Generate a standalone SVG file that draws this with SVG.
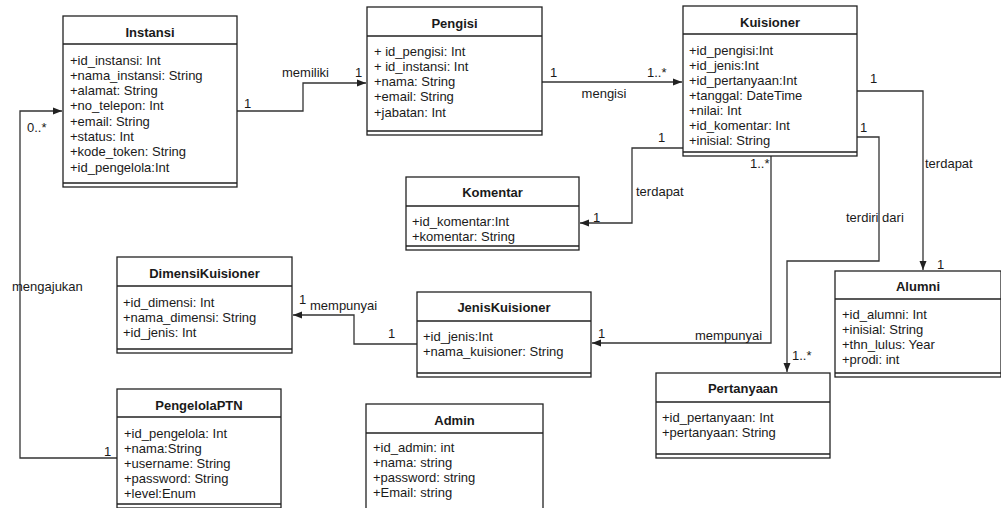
<svg xmlns="http://www.w3.org/2000/svg" width="1001" height="508" viewBox="0 0 1001 508">
<style>
text{font-family:"Liberation Sans",Arial,sans-serif;font-size:13px;fill:#1a1a1a}
.t{font-weight:bold;text-anchor:middle}
.box{fill:#fff;stroke:#222;stroke-width:1.3}
.ln{stroke:#222;stroke-width:1.3;fill:none}
.c{fill:none;stroke:#333;stroke-width:1.3;marker-end:url(#arr)}
.m{text-anchor:middle}
</style>
<defs>
<marker id="arr" markerWidth="10" markerHeight="8" refX="9" refY="4" orient="auto" markerUnits="userSpaceOnUse">
<path d="M0,0.5 L9,4 L0,7.5 Z" fill="#222"/>
</marker>
</defs>
<rect width="1001" height="508" fill="#fff"/>

<g id="connectors">
<path class="c" d="M237,111 H303 V83 H366"/>
<path class="c" d="M542,82 H682"/>
<path class="c" d="M683,148 H632 V223 H580"/>
<path class="c" d="M771,156 V343 H592"/>
<path class="c" d="M857,137 H879 V261 H787 V372"/>
<path class="c" d="M857,91 H923 V270"/>
<path class="c" d="M417,344 H354 V315 H293"/>
<path class="c" d="M117,458 H20 V111 H62"/>
<text x="282" y="76.5">memiliki</text>
<text x="244" y="107.5">1</text>
<text x="355" y="76.5">1</text>
<text x="604" y="97.5" class="m">mengisi</text>
<text x="550" y="76.5">1</text>
<text x="647" y="76.5">1..*</text>
<text x="658" y="141.5">1</text>
<text x="636" y="195.5">terdapat</text>
<text x="593" y="222">1</text>
<text x="750" y="167.5">1..*</text>
<text x="695" y="339.5">mempunyai</text>
<text x="598" y="337.5">1</text>
<text x="860" y="131.5">1</text>
<text x="846" y="221.5">terdiri dari</text>
<text x="792" y="359.5">1..*</text>
<text x="870" y="82.5">1</text>
<text x="925" y="167.5">terdapat</text>
<text x="937" y="268.5">1</text>
<text x="299" y="303.5">1</text>
<text x="310" y="309.5">mempunyai</text>
<text x="388" y="337.5">1</text>
<text x="27" y="131.5">0..*</text>
<text x="12" y="290.5">mengajukan</text>
<text x="104" y="455.5">1</text>
</g>

<g id="Instansi">
<rect class="box" x="63" y="16" width="174" height="171"/>
<path class="ln" d="M63,44 H237 M63,183 H237"/>
<text class="t" x="150" y="37">Instansi</text>
<text x="70" y="64.5">+id_instansi: Int</text>
<text x="70" y="79.8">+nama_instansi: String</text>
<text x="70" y="95.1">+alamat: String</text>
<text x="70" y="110.4">+no_telepon: Int</text>
<text x="70" y="125.7">+email: String</text>
<text x="70" y="141">+status: Int</text>
<text x="70" y="156.3">+kode_token: String</text>
<text x="70" y="171.6">+id_pengelola:Int</text>
</g>

<g id="Pengisi">
<rect class="box" x="367" y="7" width="175" height="128"/>
<path class="ln" d="M367,36 H542 M367,131 H542"/>
<text class="t" x="454.5" y="28">Pengisi</text>
<text x="374" y="55.5">+ id_pengisi: Int</text>
<text x="374" y="70.8">+ id_instansi: Int</text>
<text x="374" y="86">+nama: String</text>
<text x="374" y="101.3">+email: String</text>
<text x="374" y="116.5">+jabatan: Int</text>
</g>

<g id="Kuisioner">
<rect class="box" x="683" y="6" width="174" height="150"/>
<path class="ln" d="M683,34 H857 M683,152 H857"/>
<text class="t" x="770" y="27">Kuisioner</text>
<text x="689" y="54.5">+id_pengisi:Int</text>
<text x="689" y="69.5">+id_jenis:Int</text>
<text x="689" y="84.5">+id_pertanyaan:Int</text>
<text x="689" y="99.5">+tanggal: DateTime</text>
<text x="689" y="114.5">+nilai: Int</text>
<text x="689" y="129.5">+id_komentar: Int</text>
<text x="689" y="144.5">+inisial: String</text>
</g>

<g id="Komentar">
<rect class="box" x="406" y="177" width="173" height="73"/>
<path class="ln" d="M406,206 H579 M406,246 H579"/>
<text class="t" x="492.5" y="197">Komentar</text>
<text x="412" y="225.5">+id_komentar:Int</text>
<text x="412" y="240.5">+komentar: String</text>
</g>

<g id="DimensiKuisioner">
<rect class="box" x="117" y="257" width="175" height="96"/>
<path class="ln" d="M117,286 H292 M117,349 H292"/>
<text class="t" x="204.5" y="278">DimensiKuisioner</text>
<text x="123" y="306.5">+id_dimensi: Int</text>
<text x="123" y="321.5">+nama_dimensi: String</text>
<text x="123" y="336.5">+id_jenis: Int</text>
</g>

<g id="JenisKuisioner">
<rect class="box" x="417" y="292" width="174" height="85"/>
<path class="ln" d="M417,321 H591 M417,373 H591"/>
<text class="t" x="504" y="312">JenisKuisioner</text>
<text x="423" y="340.5">+id_jenis:Int</text>
<text x="423" y="355.5">+nama_kuisioner: String</text>
</g>

<g id="Alumni">
<rect class="box" x="835" y="271" width="166" height="106"/>
<path class="ln" d="M835,299 H1001 M835,373 H1001"/>
<text class="t" x="918" y="291">Alumni</text>
<text x="842" y="318.5">+id_alumni: Int</text>
<text x="842" y="333.5">+inisial: String</text>
<text x="842" y="348.5">+thn_lulus: Year</text>
<text x="842" y="363.5">+prodi: int</text>
</g>

<g id="Pertanyaan">
<rect class="box" x="656" y="373" width="174" height="85"/>
<path class="ln" d="M656,402 H830 M656,454 H830"/>
<text class="t" x="743" y="393">Pertanyaan</text>
<text x="662" y="421.5">+id_pertanyaan: Int</text>
<text x="662" y="436.5">+pertanyaan: String</text>
</g>

<g id="PengelolaPTN">
<rect class="box" x="117" y="389" width="164" height="119"/>
<path class="ln" d="M117,417 H281 M117,504 H281"/>
<text class="t" x="199" y="409.5">PengelolaPTN</text>
<text x="124" y="437.5">+id_pengelola: Int</text>
<text x="124" y="452.5">+nama:String</text>
<text x="124" y="467.5">+username: String</text>
<text x="124" y="482.5">+password: String</text>
<text x="124" y="497.5">+level:Enum</text>
</g>

<g id="Admin">
<rect class="box" x="366" y="404" width="177" height="110"/>
<path class="ln" d="M366,433 H543"/>
<text class="t" x="454.5" y="424.5">Admin</text>
<text x="373" y="451.5">+id_admin: int</text>
<text x="373" y="466.5">+nama: string</text>
<text x="373" y="481.5">+password: string</text>
<text x="373" y="496.5">+Email: string</text>
</g>
</svg>
